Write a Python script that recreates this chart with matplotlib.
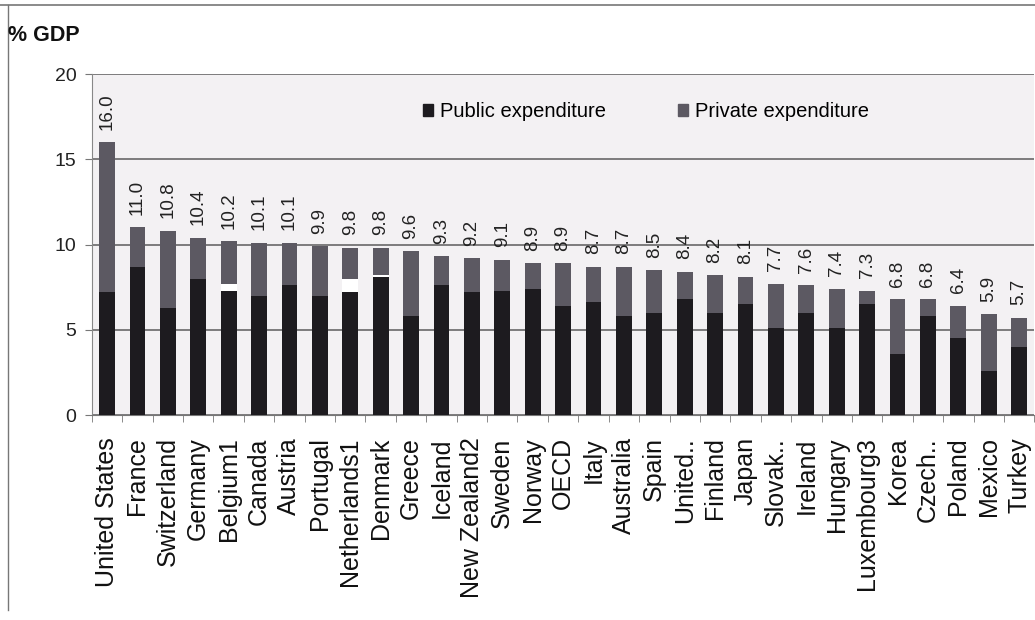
import numpy as np
import matplotlib.pyplot as plt
from matplotlib.lines import Line2D
from matplotlib.patches import Patch

plt.rcParams['font.family'] = ['Liberation Sans', 'DejaVu Sans']

countries = ["United States", "France", "Switzerland", "Germany", "Belgium1", "Canada",
             "Austria", "Portugal", "Netherlands1", "Denmark", "Greece", "Iceland",
             "New Zealand2", "Sweden", "Norway", "OECD", "Italy", "Australia", "Spain",
             "United..", "Finland", "Japan", "Slovak..", "Ireland", "Hungary",
             "Luxembourg3", "Korea", "Czech..", "Poland", "Mexico", "Turkey"]
total = [16.0, 11.0, 10.8, 10.4, 10.2, 10.1, 10.1, 9.9, 9.8, 9.8, 9.6, 9.3, 9.2, 9.1, 8.9,
         8.9, 8.7, 8.7, 8.5, 8.4, 8.2, 8.1, 7.7, 7.6, 7.4, 7.3, 6.8, 6.8, 6.4, 5.9, 5.7]
public = [7.2, 8.7, 6.3, 8.0, 7.3, 7.0, 7.6, 7.0, 7.2, 8.1, 5.8, 7.6, 7.2, 7.3, 7.4,
          6.4, 6.6, 5.8, 6.0, 6.8, 6.0, 6.5, 5.1, 6.0, 5.1, 6.5, 3.6, 5.8, 4.5, 2.6, 4.0]
# share not split between public and private (blank band)
unallocated = [0, 0, 0, 0, 0.4, 0, 0, 0, 0.8, 0.1, 0, 0, 0, 0, 0,
               0, 0, 0, 0, 0, 0, 0, 0, 0, 0, 0, 0, 0, 0, 0, 0]

total = np.array(total)
public = np.array(public)
unallocated = np.array(unallocated)
private = total - public - unallocated

x = np.arange(len(countries))
w = 0.52

fig = plt.figure(figsize=(10.35, 6.2), dpi=100)
ax = fig.add_axes([0.0887, 0.3306, 0.9107, 0.55])
ax.set_facecolor('#f3f1f3')

ax.bar(x, public, w, color='#1d1b1f', zorder=3)
ax.bar(x, unallocated, w, bottom=public, color='white', zorder=3)
ax.bar(x, private, w, bottom=public + unallocated, color='#5c5962', zorder=3)

for xi, t in zip(x, total):
    ax.annotate(f"{t:.1f}", (xi, t), xytext=(0, 9), textcoords='offset points',
                rotation=90, ha='center', va='bottom', fontsize=13.5, color='#222')

ax.set_ylim(0, 20)
ax.set_xlim(-0.5, len(countries) - 0.5)
ax.set_yticks([0, 5, 10, 15, 20])
ax.yaxis.grid(True, color='#5c5c5c', linewidth=1.1, zorder=1)
ax.tick_params(axis='y', labelsize=14, length=5, color='#777', pad=6, labelcolor='#222')

ax.set_xticks(x)
ax.set_xticklabels(countries, rotation=90, fontsize=18, color='#111')
ax.tick_params(axis='x', length=0, pad=16)
ax.set_xticks(np.arange(len(countries) + 1) - 0.5, minor=True)
ax.tick_params(axis='x', which='minor', length=5, color='#777')

for s in ['top', 'right']:
    ax.spines[s].set_visible(False)
ax.spines['left'].set_color('#888')
ax.spines['bottom'].set_color('#777')

handles = [Patch(color='#1d1b1f'), Patch(color='#5c5962')]
ax.legend(handles, ['Public expenditure', 'Private expenditure'], ncol=2,
          loc='center left', bbox_to_anchor=(0.351, 0.889), frameon=False,
          fontsize=14.5, handlelength=0.5, handleheight=0.5, handletextpad=0.35,
          columnspacing=3.6, borderpad=0, borderaxespad=0)

fig.text(0.008, 0.943, "% GDP", fontsize=15.5, fontweight='bold', va='center', color='#111')

# page frame lines
fig.add_artist(Line2D([0, 1], [0.992, 0.992], color='#777', lw=1.2))
fig.add_artist(Line2D([0.008, 0.008], [0.016, 0.992], color='#777', lw=1.0))

plt.savefig('out.png')
